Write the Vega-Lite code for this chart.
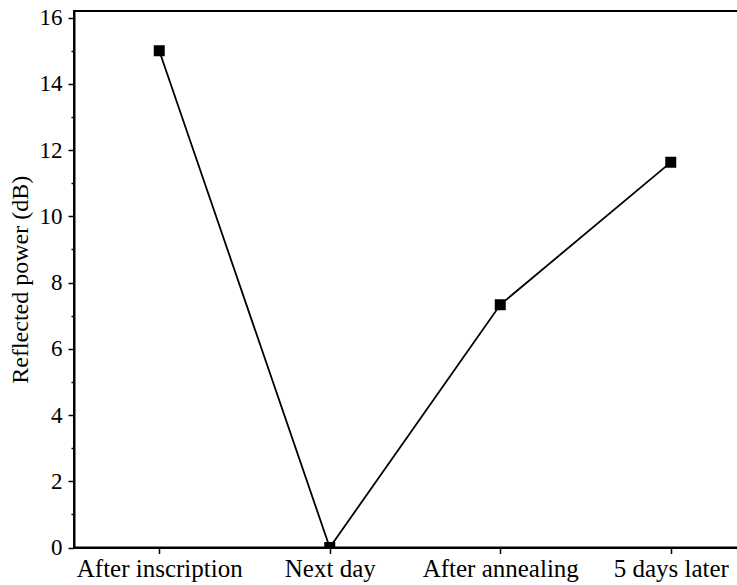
{
  "$schema": "https://vega.github.io/schema/vega-lite/v6.json",
  "autosize": {"type": "none"},
  "padding": {"left": 74, "top": 11, "right": 0, "bottom": 38},
  "width": 682,
  "height": 536.5,
  "background": "white",
  "config": {
    "view": {"stroke": "black", "strokeWidth": 2},
    "axis": {
      "domainColor": "black", "domainWidth": 2, "tickColor": "black", "tickWidth": 1.5,
      "labelColor": "black", "labelFont": "Liberation Serif", "titleFont": "Liberation Serif",
      "titleColor": "black", "titleFontWeight": "normal", "grid": false
    }
  },
  "data": {"values": [
    {"stage": "After inscription", "power": 15.0},
    {"stage": "Next day", "power": 0.0},
    {"stage": "After annealing", "power": 7.33},
    {"stage": "5 days later", "power": 11.63}
  ]},
  "encoding": {
    "x": {"field": "stage", "type": "ordinal", "sort": null,
      "scale": {"type": "point", "padding": 0.5},
      "axis": {"title": null, "labelAngle": 0, "labelFontSize": 25, "tickSize": 6, "labelPadding": 3}}
  },
  "layer": [
    {
      "mark": {"type": "line", "color": "black", "strokeWidth": 1.8, "clip": true},
      "encoding": {"y": {"field": "power", "type": "quantitative",
        "scale": {"domain": [0, 16.2], "nice": false, "zero": true},
        "axis": {"title": "Reflected power (dB)", "titleFontSize": 24, "titlePadding": 7,
          "values": [0, 2, 4, 6, 8, 10, 12, 14, 16], "labelFontSize": 23, "tickSize": 6, "labelPadding": 6}}}
    },
    {
      "mark": {"type": "point", "shape": "square", "filled": true, "color": "black", "opacity": 1, "size": 121, "clip": true},
      "encoding": {"y": {"field": "power", "type": "quantitative", "axis": null}}
    },
    {
      "mark": {"type": "point", "opacity": 0},
      "encoding": {"y": {"field": "power", "type": "quantitative",
        "axis": {"title": null, "orient": "left", "values": [1, 3, 5, 7, 9, 11, 13, 15], "labels": false, "tickSize": 3, "domain": false}}}
    }
  ],
  "resolve": {"axis": {"y": "independent"}}
}
